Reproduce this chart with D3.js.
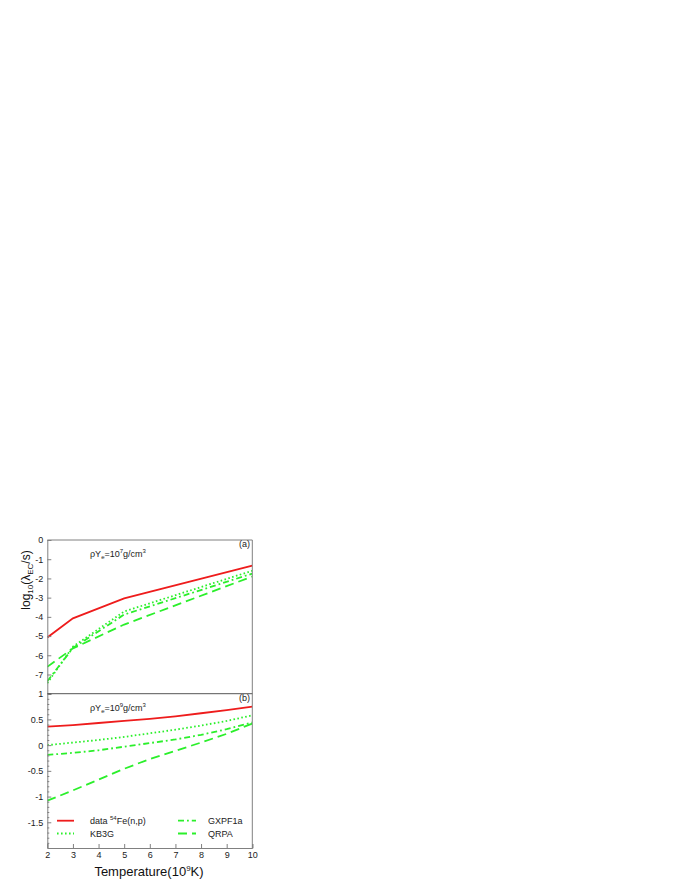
<!DOCTYPE html>
<html><head><meta charset="utf-8">
<script src="https://cdn.jsdelivr.net/npm/d3@7"></script>
<style>body{margin:0;background:#fff}svg{display:block}text{font-family:"Liberation Sans",Arial,sans-serif}</style>
</head><body><svg id="c" width="680" height="880"></svg>
<script>
// ---- data ----
const xTicks = [2,3,4,5,6,7,8,9,10];
const tempA = [2,3,5,10];
const dataA = [-5.07,-4.08,-3.04,-1.34];
const kb3gA = [-7.45,-5.55,-3.72,-1.60];
const gxpfA = [-7.35,-5.62,-3.88,-1.75];
const qrpaA = [-6.60,-5.64,-4.40,-1.90];
const tempB = [2,3,4,5,6,7,8,9,10];
const dataB = [0.36,0.39,0.43,0.47,0.51,0.56,0.62,0.68,0.75];
const kb3gB = [0.00,0.05,0.10,0.16,0.23,0.30,0.38,0.47,0.58];
const gxpfB = [-0.19,-0.15,-0.10,-0.03,0.04,0.11,0.20,0.31,0.44];
const qrpaB = [-1.08,-0.88,-0.67,-0.46,-0.27,-0.11,0.05,0.22,0.42];
const yTicksA = [0,-1,-2,-3,-4,-5,-6,-7];
const yTicksB = [1,0.5,0,-0.5,-1,-1.5];
const seriesNames = ["data","KB3G","GXPF1a","QRPA"];

const svg = d3.select("#c");
const L=47.3, R=252.3, TA=540, MID=693.7, BB=848;
const x = d3.scaleLinear().domain([2,10]).range([L,R]);
const yA = d3.scaleLinear().domain([-8,0]).range([MID,TA]);
const yB = d3.scaleLinear().domain([-2,1]).range([BB,MID]);
const frame="#808080";
const red="#ee1c1c", green="#2bef2b";
const styles = {
  data:{c:red,d:null,w:1.8},
  KB3G:{c:green,d:"1.6,2.4",w:1.8},
  GXPF1a:{c:green,d:"6,3,1.8,3",w:1.8},
  QRPA:{c:green,d:"9,5",w:1.8}
};
const fmt = d => String(d).replace("\u2212","-");

// clip
svg.append("clipPath").attr("id","ca").append("rect").attr("x",L).attr("y",TA).attr("width",R-L).attr("height",MID-TA);
svg.append("clipPath").attr("id","cb").append("rect").attr("x",L).attr("y",MID).attr("width",R-L).attr("height",BB-MID);

const gA=svg.append("g").attr("clip-path","url(#ca)");
const gB=svg.append("g").attr("clip-path","url(#cb)");
function dl(g,xs,ys,y,name){
  const st=styles[name];
  const line=d3.line().x((d,i)=>x(xs[i])).y(d=>y(d));
  const p=g.append("path").datum(ys).attr("d",line).attr("fill","none")
    .attr("stroke",st.c).attr("stroke-width",st.w);
  if(st.d) p.attr("stroke-dasharray",st.d);
}
dl(gA,tempA,qrpaA,yA,"QRPA");
dl(gA,tempA,gxpfA,yA,"GXPF1a");
dl(gA,tempA,kb3gA,yA,"KB3G");
dl(gA,tempA,dataA,yA,"data");
dl(gB,tempB,qrpaB,yB,"QRPA");
dl(gB,tempB,gxpfB,yB,"GXPF1a");
dl(gB,tempB,kb3gB,yB,"KB3G");
dl(gB,tempB,dataB,yB,"data");

// axes
const fs=9;
function styleAxis(g){
  g.selectAll(".domain").attr("stroke",frame);
  g.selectAll(".tick line").attr("stroke",frame);
  g.selectAll("text").attr("font-size",fs).attr("fill","#222");
}
const axA=svg.append("g").attr("transform",`translate(${L},0)`)
  .call(d3.axisLeft(yA).tickValues(yTicksA).tickSize(-4).tickPadding(4).tickFormat(fmt));
styleAxis(axA);
const axB=svg.append("g").attr("transform",`translate(${L},0)`)
  .call(d3.axisLeft(yB).tickValues(yTicksB).tickSize(-4).tickPadding(4).tickFormat(fmt));
styleAxis(axB);
// minor ticks on B
const minorB=d3.range(-20,11).map(v=>v/10).filter(v=>Math.abs(v*2-Math.round(v*2))>1e-6);
svg.append("g").attr("transform",`translate(${L},0)`)
  .call(d3.axisLeft(yB).tickValues(minorB).tickSize(-2).tickFormat(""))
  .call(g=>{g.select(".domain").remove();g.selectAll("line").attr("stroke",frame);});
const axX=svg.append("g").attr("transform",`translate(0,${BB})`)
  .call(d3.axisBottom(x).tickValues(xTicks).tickSize(-4).tickPadding(4).tickFormat(fmt));
styleAxis(axX);

// frame lines
svg.append("line").attr("x1",L).attr("x2",R).attr("y1",TA).attr("y2",TA).attr("stroke",frame);
svg.append("line").attr("x1",R).attr("x2",R).attr("y1",TA).attr("y2",BB).attr("stroke",frame);
svg.append("line").attr("x1",L).attr("x2",R).attr("y1",MID).attr("y2",MID).attr("stroke","#555");

// annotations
function rho(yb, exp){
  const t=svg.append("text").attr("x",90).attr("y",yb).attr("font-size",9).attr("fill","#222");
  t.append("tspan").text("ρY");
  t.append("tspan").attr("font-size",6).attr("dy",2).text("e");
  t.append("tspan").attr("dy",-2).text("=10");
  t.append("tspan").attr("font-size",6).attr("dy",-4).text(exp);
  t.append("tspan").attr("dy",4).text("g/cm");
  t.append("tspan").attr("font-size",6).attr("dy",-4).text("3");
}
rho(557,"7");
rho(711,"9");
svg.append("text").attr("x",250).attr("y",547).attr("text-anchor","end").attr("font-size",9).attr("fill","#222").text("(a)");
svg.append("text").attr("x",250).attr("y",701).attr("text-anchor","end").attr("font-size",9).attr("fill","#222").text("(b)");

// legend
const leg=[
  {n:"data",x1:57,x2:74,y:820.7,tx:90},
  {n:"KB3G",x1:57,x2:74,y:833.5,tx:90},
  {n:"GXPF1a",x1:178,x2:196,y:820.7,tx:208},
  {n:"QRPA",x1:178,x2:196,y:833.5,tx:208}
];
leg.forEach(l=>{
  const st=styles[l.n];
  const ln=svg.append("line").attr("x1",l.x1).attr("x2",l.x2).attr("y1",l.y).attr("y2",l.y)
    .attr("stroke",st.c).attr("stroke-width",st.w);
  if(st.d) ln.attr("stroke-dasharray",st.d);
  const t=svg.append("text").attr("x",l.tx).attr("y",l.y+3.5).attr("font-size",9).attr("fill","#222");
  if(l.n==="data"){
    t.append("tspan").text("data ");
    t.append("tspan").attr("font-size",6).attr("dy",-4).text("54");
    t.append("tspan").attr("dy",4).text("Fe(n,p)");
  } else t.text(l.n);
});

// axis titles
const xt=svg.append("text").attr("x",149).attr("y",876).attr("text-anchor","middle").attr("font-size",13).attr("fill","#111");
xt.append("tspan").text("Temperature(10");
xt.append("tspan").attr("font-size",8).attr("dy",-5).text("9");
xt.append("tspan").attr("dy",5).text("K)");
const yt=svg.append("text").attr("transform","translate(30,580) rotate(-90)").attr("text-anchor","middle").attr("font-size",12).attr("fill","#111");
yt.append("tspan").text("log");
yt.append("tspan").attr("font-size",8).attr("dy",3).text("10");
yt.append("tspan").attr("dy",-3).text("(λ");
yt.append("tspan").attr("font-size",8).attr("dy",3).text("EC");
yt.append("tspan").attr("dy",-3).text("/s)");
</script></body></html>
